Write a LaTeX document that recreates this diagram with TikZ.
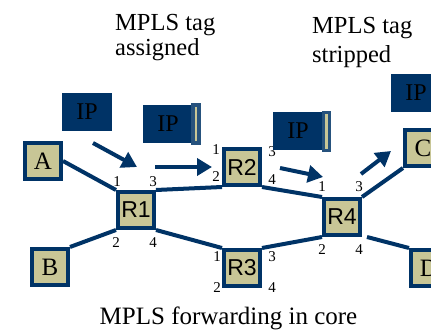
\documentclass[tikz,border=0pt]{standalone}
\usepackage{fontspec}
\setmainfont{Liberation Serif}
\newfontfamily\routerfont{Liberation Sans}
\usetikzlibrary{arrows.meta, backgrounds}

\definecolor{netblue}{RGB}{0,51,102}
\definecolor{nettan}{RGB}{200,198,150}

\tikzset{
  host/.style={draw=netblue, fill=nettan, line width=4pt, minimum size=36pt,
    inner sep=0pt, font=\fontsize{25}{25}\selectfont},
  router/.style={host, font=\routerfont\fontsize{23}{23}\selectfont},
  link/.style={draw=netblue, line width=4pt},
  packet/.style={fill=netblue, minimum width=50pt, minimum height=38pt,
    inner sep=0pt, font=\fontsize{24}{24}\selectfont},
  tagbar/.style={draw=netblue!85!white, fill=nettan, line width=3.5pt,
    minimum width=6pt, minimum height=38pt, inner sep=0pt},
  port/.style={inner sep=0pt, font=\fontsize{15}{15}\selectfont},
  flow/.style={draw=netblue, line width=4pt, -{Triangle[length=15pt, width=17pt]}},
  note/.style={inner sep=0pt, align=left, anchor=north west}
}

\begin{document}
\begin{tikzpicture}[x=1pt, y=-1pt]
        \useasboundingbox (0,0) rectangle (431,331);
        \clip (0,0) rectangle (431,331);

        % hosts and routers
        \node[host] (A) at (43, 161) {A};
        \node[host] (B) at (50, 267) {B};
        \node[host] (C) at (423, 148) {C};
        \node[host] (D) at (429, 268) {D};
        \node[router] (R1) at (136, 210) {R1};
        \node[router] (R2) at (242, 167) {R2};
        \node[router] (R3) at (242, 268) {R3};
        \node[router] (R4) at (342, 217) {R4};

        \begin{scope}[on background layer]
        \draw[link] (A.east) -- (R1.north west);
        \draw[link] (B.north east) -- (R1.south west);
        \draw[link] (R1.north east) -- (R2.south west);
        \draw[link] (R1.south east) -- (R3.north west);
        \draw[link] (R2.south east) -- (R4.north west);
        \draw[link] (R3.north east) -- (R4.south west);
        \draw[link] (R4.north east) -- (C.south west);
        \draw[link] ([xshift=5pt]R4.south east) -- (D.north west);
        \end{scope}

        % port numbers
        \node[port] (r1a) at (117, 182) {1};
        \node[port] (r1b) at (116, 243) {2};
        \node[port] (r1c) at (153, 182) {3};
        \node[port] (r1d) at (153, 243) {4};
        \node[port] (r2a) at (216, 150) {1};
        \node[port] (r2b) at (216, 177) {2};
        \node[port] (r2c) at (272, 152) {3};
        \node[port] (r2d) at (272, 180) {4};
        \node[port] (r3a) at (217, 257) {1};
        \node[port] (r3b) at (217, 288) {2};
        \node[port] (r3c) at (272, 257) {3};
        \node[port] (r3d) at (272, 288) {4};
        \node[port] (r4a) at (322, 187) {1};
        \node[port] (r4b) at (322, 250) {2};
        \node[port] (r4c) at (359, 187) {3};
        \node[port] (r4d) at (359, 250) {4};

        % packets
        \node[packet] (ip1) at (87, 112) {IP};
        \node[packet] (ip2) at (168, 124) {IP};
        \node[tagbar] (tag2) at (196, 124) {};
        \node[packet] (ip3) at (298, 131) {IP};
        \node[tagbar] (tag3) at (326.5, 131.5) {};
        \node[packet] (ip4) at (416, 93) {IP};

        \coordinate (f1s) at (93, 143);
        \coordinate (f1e) at (137, 167);
        \coordinate (f2s) at (155, 167);
        \coordinate (f2e) at (212, 167);
        \coordinate (f3s) at (280, 168);
        \coordinate (f3e) at (323, 177);
        \coordinate (f4s) at (361, 174);
        \coordinate (f4e) at (391, 151);
        \draw[flow] (f1s) -- (f1e);
        \draw[flow] (f2s) -- (f2e);
        \draw[flow] (f3s) -- (f3e);
        \draw[flow] (f4s) -- (f4e);

        % texts
        \node[note, font=\fontsize{24.5}{25}\selectfont] (assigned) at (115, 14) {MPLS tag\\assigned};
        \node[note, font=\fontsize{24.5}{29}\selectfont] (stripped) at (312, 17) {MPLS tag\\stripped};
        \node[inner sep=0pt, anchor=base, font=\fontsize{25}{25}\selectfont] (core) at (228.5, 324) {MPLS forwarding in core};
    \end{tikzpicture}
\end{document}
